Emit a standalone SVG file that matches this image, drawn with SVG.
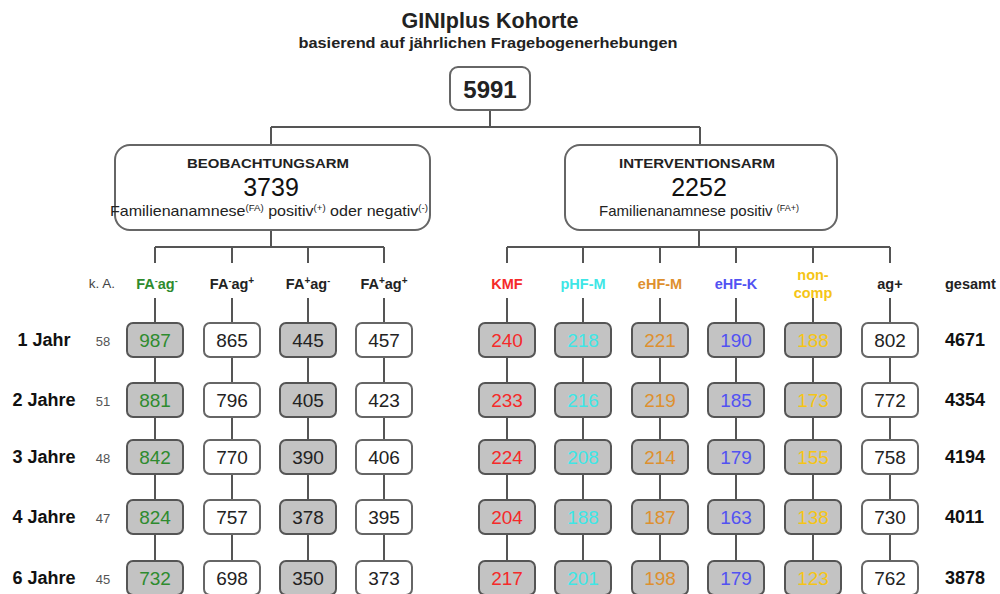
<svg xmlns="http://www.w3.org/2000/svg" width="1000" height="594" viewBox="0 0 1000 594">
<style>
text{font-family:"Liberation Sans",Arial,sans-serif;}
.t{font-weight:bold;fill:#222;text-anchor:middle}
.ln{stroke:#555;stroke-width:2;fill:none}
.g{fill:#c3c3c3;stroke:#555;stroke-width:2}
.w{fill:#fff;stroke:#666;stroke-width:2}
.n{font-size:19px;text-anchor:middle;fill:#222}
.hd{font-size:14.5px;font-weight:bold;text-anchor:middle;fill:#222}
.row{font-size:18px;font-weight:bold;text-anchor:middle;fill:#111}
.ka{font-size:13px;text-anchor:middle;fill:#555}
.tot{font-size:18px;font-weight:bold;fill:#111}
.green{fill:#2e8b2e}.red{fill:#f52a2a}.cyan{fill:#3ee6e6}.orange{fill:#de902e}.blue{fill:#5252f2}.yellow{fill:#f5c516}
</style>
<g id="title">
<text x="490" y="28" class="t" font-size="21.5">GINIplus Kohorte</text>
<text x="488" y="48" class="t" font-size="15" textLength="379" lengthAdjust="spacingAndGlyphs">basierend auf jährlichen Fragebogenerhebungen</text>
</g>
<g id="connectors">
<path class="ln" d="M490,110V127M271,127H700M271,127V145M700,127V145"/>
<path class="ln" d="M271,230V247M155,247H384M155,247V263M232,247V263M308,247V263M384,247V263"/>
<path class="ln" d="M699,230V247M507,247H890M507,247V263M583,247V263M660,247V263M736,247V263M813,247V263M890,247V263"/>
<path class="ln" d="M155,298V594M232,298V594M308,298V594M384,298V594M507,298V594M583,298V594M660,298V594M736,298V594M813,298V594M890,298V594"/>
</g>
<g id="root"><rect x="450" y="67" width="80" height="43" rx="8" class="w"/><text x="490" y="98" class="t" font-size="24">5991</text></g>
<g id="beobachtungsarm"><rect x="115" y="145" width="315" height="85" rx="15" class="w"/>
<text x="268" y="168" class="t" font-size="13.5" textLength="162" lengthAdjust="spacingAndGlyphs">BEOBACHTUNGSARM</text>
<text x="271" y="196" font-size="25" text-anchor="middle" fill="#111">3739</text>
<text x="269" y="216" font-size="15" text-anchor="middle" fill="#222" textLength="318" lengthAdjust="spacingAndGlyphs">Familienanamnese<tspan font-size="9" dy="-5">(FA)</tspan><tspan dy="5"> positiv</tspan><tspan font-size="9" dy="-5">(+)</tspan><tspan dy="5"> oder negativ</tspan><tspan font-size="9" dy="-5">(-)</tspan></text>
</g>
<g id="interventionsarm"><rect x="565" y="145" width="272" height="85" rx="15" class="w"/>
<text x="697" y="168" class="t" font-size="13.5" textLength="156" lengthAdjust="spacingAndGlyphs">INTERVENTIONSARM</text>
<text x="699" y="196" font-size="25" text-anchor="middle" fill="#111">2252</text>
<text x="699" y="216" font-size="15" text-anchor="middle" fill="#222">Familienanamnese positiv <tspan font-size="9" dy="-5">(FA+)</tspan></text>
</g>
<g id="headers">
<text x="102" y="288" font-size="13.5" text-anchor="middle" fill="#444">k. A.</text>
<text x="157" y="289" class="hd green">FA<tspan font-size="9" dy="-5">-</tspan><tspan dy="5">ag</tspan><tspan font-size="9" dy="-5">-</tspan></text>
<text x="232" y="289" class="hd">FA<tspan font-size="9" dy="-5">-</tspan><tspan dy="5">ag</tspan><tspan font-size="10" dy="-5">+</tspan></text>
<text x="308" y="289" class="hd">FA<tspan font-size="10" dy="-5">+</tspan><tspan dy="5">ag</tspan><tspan font-size="9" dy="-5">-</tspan></text>
<text x="384" y="289" class="hd">FA<tspan font-size="10" dy="-5">+</tspan><tspan dy="5">ag</tspan><tspan font-size="10" dy="-5">+</tspan></text>
<text x="507" y="289" class="hd red">KMF</text>
<text x="583" y="289" class="hd cyan">pHF-M</text>
<text x="660" y="289" class="hd orange">eHF-M</text>
<text x="736" y="289" class="hd blue">eHF-K</text>
<text x="813" y="280" class="hd yellow">non-</text>
<text x="813" y="298" class="hd yellow">comp</text>
<text x="890" y="289" class="hd">ag+</text>
<text x="945" y="289" font-size="14.5" font-weight="bold" fill="#222">gesamt</text>
</g>
<g id="row1">
<text x="44" y="346" class="row">1 Jahr</text><text x="103" y="346" class="ka">58</text>
<g id="r1c1"><rect x="127" y="323" width="56" height="34" rx="6" class="g"/><text x="155" y="346.5" class="n green">987</text></g>
<g id="r1c2"><rect x="204" y="323" width="56" height="34" rx="6" class="w"/><text x="232" y="346.5" class="n">865</text></g>
<g id="r1c3"><rect x="280" y="323" width="56" height="34" rx="6" class="g"/><text x="308" y="346.5" class="n">445</text></g>
<g id="r1c4"><rect x="356" y="323" width="56" height="34" rx="6" class="w"/><text x="384" y="346.5" class="n">457</text></g>
<g id="r1c5"><rect x="479" y="323" width="56" height="34" rx="6" class="g"/><text x="507" y="346.5" class="n red">240</text></g>
<g id="r1c6"><rect x="555" y="323" width="56" height="34" rx="6" class="g"/><text x="583" y="346.5" class="n cyan">218</text></g>
<g id="r1c7"><rect x="632" y="323" width="56" height="34" rx="6" class="g"/><text x="660" y="346.5" class="n orange">221</text></g>
<g id="r1c8"><rect x="708" y="323" width="56" height="34" rx="6" class="g"/><text x="736" y="346.5" class="n blue">190</text></g>
<g id="r1c9"><rect x="785" y="323" width="56" height="34" rx="6" class="g"/><text x="813" y="346.5" class="n yellow">188</text></g>
<g id="r1c10"><rect x="862" y="323" width="56" height="34" rx="6" class="w"/><text x="890" y="346.5" class="n">802</text></g>
<text x="945" y="346" class="tot">4671</text>
</g>
<g id="row2">
<text x="44" y="406" class="row">2 Jahre</text><text x="103" y="406" class="ka">51</text>
<g id="r2c1"><rect x="127" y="383" width="56" height="34" rx="6" class="g"/><text x="155" y="406.5" class="n green">881</text></g>
<g id="r2c2"><rect x="204" y="383" width="56" height="34" rx="6" class="w"/><text x="232" y="406.5" class="n">796</text></g>
<g id="r2c3"><rect x="280" y="383" width="56" height="34" rx="6" class="g"/><text x="308" y="406.5" class="n">405</text></g>
<g id="r2c4"><rect x="356" y="383" width="56" height="34" rx="6" class="w"/><text x="384" y="406.5" class="n">423</text></g>
<g id="r2c5"><rect x="479" y="383" width="56" height="34" rx="6" class="g"/><text x="507" y="406.5" class="n red">233</text></g>
<g id="r2c6"><rect x="555" y="383" width="56" height="34" rx="6" class="g"/><text x="583" y="406.5" class="n cyan">216</text></g>
<g id="r2c7"><rect x="632" y="383" width="56" height="34" rx="6" class="g"/><text x="660" y="406.5" class="n orange">219</text></g>
<g id="r2c8"><rect x="708" y="383" width="56" height="34" rx="6" class="g"/><text x="736" y="406.5" class="n blue">185</text></g>
<g id="r2c9"><rect x="785" y="383" width="56" height="34" rx="6" class="g"/><text x="813" y="406.5" class="n yellow">173</text></g>
<g id="r2c10"><rect x="862" y="383" width="56" height="34" rx="6" class="w"/><text x="890" y="406.5" class="n">772</text></g>
<text x="945" y="406" class="tot">4354</text>
</g>
<g id="row3">
<text x="44" y="463" class="row">3 Jahre</text><text x="103" y="463" class="ka">48</text>
<g id="r3c1"><rect x="127" y="440" width="56" height="34" rx="6" class="g"/><text x="155" y="463.5" class="n green">842</text></g>
<g id="r3c2"><rect x="204" y="440" width="56" height="34" rx="6" class="w"/><text x="232" y="463.5" class="n">770</text></g>
<g id="r3c3"><rect x="280" y="440" width="56" height="34" rx="6" class="g"/><text x="308" y="463.5" class="n">390</text></g>
<g id="r3c4"><rect x="356" y="440" width="56" height="34" rx="6" class="w"/><text x="384" y="463.5" class="n">406</text></g>
<g id="r3c5"><rect x="479" y="440" width="56" height="34" rx="6" class="g"/><text x="507" y="463.5" class="n red">224</text></g>
<g id="r3c6"><rect x="555" y="440" width="56" height="34" rx="6" class="g"/><text x="583" y="463.5" class="n cyan">208</text></g>
<g id="r3c7"><rect x="632" y="440" width="56" height="34" rx="6" class="g"/><text x="660" y="463.5" class="n orange">214</text></g>
<g id="r3c8"><rect x="708" y="440" width="56" height="34" rx="6" class="g"/><text x="736" y="463.5" class="n blue">179</text></g>
<g id="r3c9"><rect x="785" y="440" width="56" height="34" rx="6" class="g"/><text x="813" y="463.5" class="n yellow">155</text></g>
<g id="r3c10"><rect x="862" y="440" width="56" height="34" rx="6" class="w"/><text x="890" y="463.5" class="n">758</text></g>
<text x="945" y="463" class="tot">4194</text>
</g>
<g id="row4">
<text x="44" y="523" class="row">4 Jahre</text><text x="103" y="523" class="ka">47</text>
<g id="r4c1"><rect x="127" y="500" width="56" height="34" rx="6" class="g"/><text x="155" y="523.5" class="n green">824</text></g>
<g id="r4c2"><rect x="204" y="500" width="56" height="34" rx="6" class="w"/><text x="232" y="523.5" class="n">757</text></g>
<g id="r4c3"><rect x="280" y="500" width="56" height="34" rx="6" class="g"/><text x="308" y="523.5" class="n">378</text></g>
<g id="r4c4"><rect x="356" y="500" width="56" height="34" rx="6" class="w"/><text x="384" y="523.5" class="n">395</text></g>
<g id="r4c5"><rect x="479" y="500" width="56" height="34" rx="6" class="g"/><text x="507" y="523.5" class="n red">204</text></g>
<g id="r4c6"><rect x="555" y="500" width="56" height="34" rx="6" class="g"/><text x="583" y="523.5" class="n cyan">188</text></g>
<g id="r4c7"><rect x="632" y="500" width="56" height="34" rx="6" class="g"/><text x="660" y="523.5" class="n orange">187</text></g>
<g id="r4c8"><rect x="708" y="500" width="56" height="34" rx="6" class="g"/><text x="736" y="523.5" class="n blue">163</text></g>
<g id="r4c9"><rect x="785" y="500" width="56" height="34" rx="6" class="g"/><text x="813" y="523.5" class="n yellow">138</text></g>
<g id="r4c10"><rect x="862" y="500" width="56" height="34" rx="6" class="w"/><text x="890" y="523.5" class="n">730</text></g>
<text x="945" y="523" class="tot">4011</text>
</g>
<g id="row6">
<text x="44" y="584" class="row">6 Jahre</text><text x="103" y="584" class="ka">45</text>
<g id="r6c1"><rect x="127" y="561" width="56" height="34" rx="6" class="g"/><text x="155" y="584.5" class="n green">732</text></g>
<g id="r6c2"><rect x="204" y="561" width="56" height="34" rx="6" class="w"/><text x="232" y="584.5" class="n">698</text></g>
<g id="r6c3"><rect x="280" y="561" width="56" height="34" rx="6" class="g"/><text x="308" y="584.5" class="n">350</text></g>
<g id="r6c4"><rect x="356" y="561" width="56" height="34" rx="6" class="w"/><text x="384" y="584.5" class="n">373</text></g>
<g id="r6c5"><rect x="479" y="561" width="56" height="34" rx="6" class="g"/><text x="507" y="584.5" class="n red">217</text></g>
<g id="r6c6"><rect x="555" y="561" width="56" height="34" rx="6" class="g"/><text x="583" y="584.5" class="n cyan">201</text></g>
<g id="r6c7"><rect x="632" y="561" width="56" height="34" rx="6" class="g"/><text x="660" y="584.5" class="n orange">198</text></g>
<g id="r6c8"><rect x="708" y="561" width="56" height="34" rx="6" class="g"/><text x="736" y="584.5" class="n blue">179</text></g>
<g id="r6c9"><rect x="785" y="561" width="56" height="34" rx="6" class="g"/><text x="813" y="584.5" class="n yellow">123</text></g>
<g id="r6c10"><rect x="862" y="561" width="56" height="34" rx="6" class="w"/><text x="890" y="584.5" class="n">762</text></g>
<text x="945" y="584" class="tot">3878</text>
</g>
</svg>
